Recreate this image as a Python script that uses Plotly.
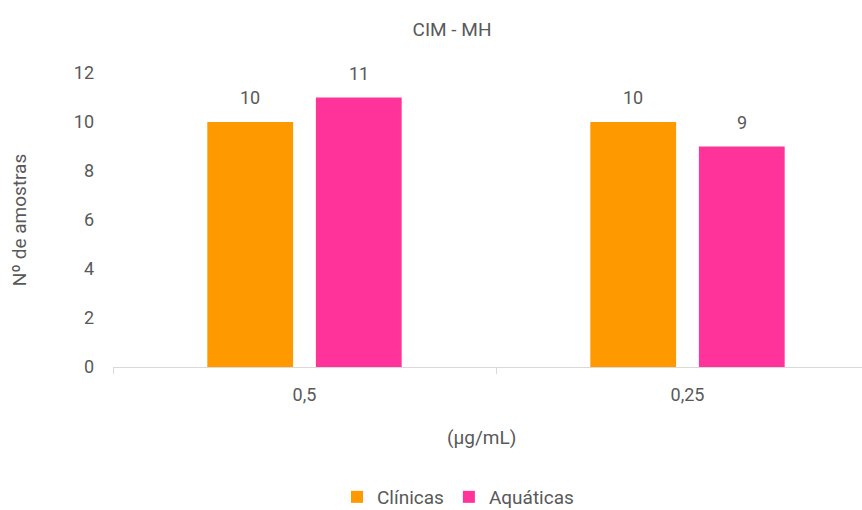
import plotly.graph_objects as go

categories = ["0,5", "0,25"]
clinicas = [10, 10]
aquaticas = [11, 9]
series_names = ["Clínicas", "Aquáticas"]
series_colors = ["#FF9900", "#FF3399"]
y_ticks = [0, 2, 4, 6, 8, 10, 12]

FONT = "Roboto"
GREY = "#595959"
BARGAP = 0.433
GROUPGAP = 0.21

fig = go.Figure()
series = [clinicas, aquaticas]
for name, vals, color in zip(series_names, series, series_colors):
    fig.add_trace(go.Bar(
        x=categories, y=vals, name=name,
        marker=dict(color=color, line=dict(width=0)),
    ))

# value labels above each bar, placed at the bar's centre within its group
n = len(series)
slot = (1 - BARGAP) / n
for j, vals in enumerate(series):
    for i, v in enumerate(vals):
        fig.add_annotation(
            x=i - (1 - BARGAP) / 2 + slot * (j + 0.5), y=v,
            xref="x", yref="y", text=str(v), showarrow=False,
            yanchor="bottom", yshift=12,
            font=dict(family=FONT, size=18, color=GREY),
        )

fig.update_layout(
    width=862, height=510,
    margin=dict(l=113, r=0, t=73, b=143),
    paper_bgcolor="white", plot_bgcolor="white",
    barmode="group", bargap=BARGAP, bargroupgap=GROUPGAP,
    font=dict(family=FONT, color=GREY),
    title=dict(text="CIM - MH", x=452 / 862, xanchor="center",
               y=1 - 29 / 510, yanchor="middle",
               font=dict(family=FONT, size=19, color=GREY)),
    showlegend=True,
    legend=dict(orientation="h", xref="container", yref="container",
                x=458 / 862, xanchor="center", y=1 - 497 / 510, yanchor="middle",
                font=dict(family=FONT, size=19, color=GREY),
                itemwidth=30, traceorder="normal"),
)

fig.update_xaxes(
    type="category", range=[-0.5, 1.5 - 17 / 383],
    showline=True, linecolor="#D9D9D9", linewidth=1,
    ticks="outside", tickson="boundaries", ticklen=6, tickcolor="#D9D9D9",
    tickfont=dict(family=FONT, size=18, color=GREY),
    ticklabelstandoff=11, showgrid=False, zeroline=False,
)
fig.update_yaxes(
    range=[0, 12], tickvals=y_ticks, showgrid=False, zeroline=False,
    showline=False, ticks="",
    tickfont=dict(family=FONT, size=18, color=GREY),
    ticklabelstandoff=18,
    title=dict(text="Nº de amostras", standoff=42,
               font=dict(family=FONT, size=19, color=GREY)),
)

fig.add_annotation(text="(µg/mL)", xref="paper", yref="paper",
                   x=(481 - 113) / (862 - 113), y=-(437 - 367) / (367 - 73),
                   xanchor="center", yanchor="middle", showarrow=False,
                   font=dict(family=FONT, size=19, color=GREY))

fig.write_html("out.html")
